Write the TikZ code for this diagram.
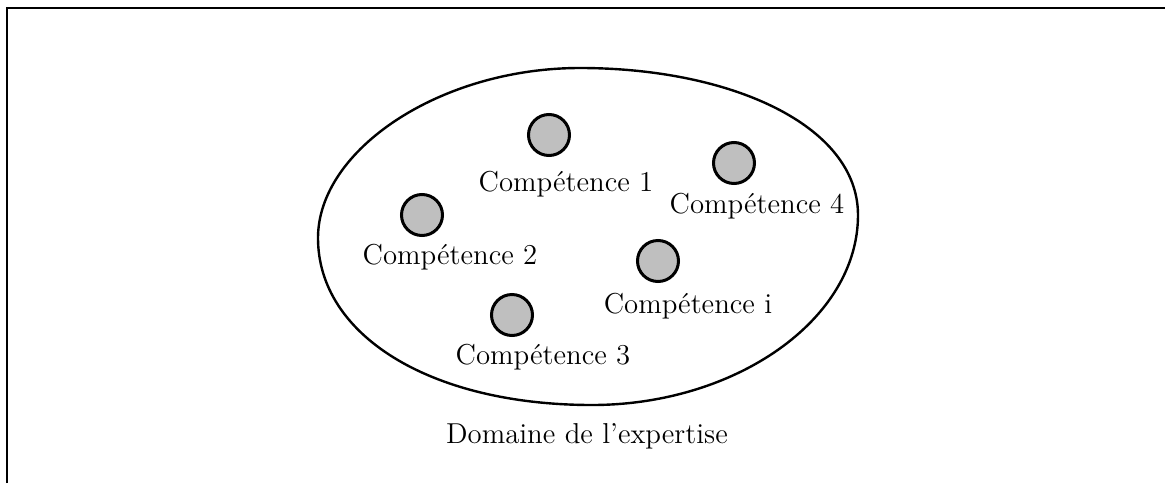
\documentclass[tikz,border=0pt]{standalone}
\begin{document}
\begin{tikzpicture}[x=0.5pt,y=-0.5pt,
  comp/.style={circle,draw=black,line width=1.5pt,fill=black!25,minimum size=20.5pt,inner sep=0pt},
  lbl/.style={font=\fontsize{14.4}{17}\selectfont,inner sep=0pt,anchor=center},
  frameline/.style={line width=1pt},
  blob/.style={line width=1.2pt}]
\useasboundingbox (0,0) rectangle (1169,483);
\draw[frameline] (7,483) -- (7,8) -- (1165,8);
\coordinate (bl) at (318,238);
\coordinate (bt) at (580,68);
\coordinate (br) at (858,215);
\coordinate (bb) at (592,405);
\draw[blob] (bl) .. controls (318,150) and (440,68) .. (bt)
  .. controls (730,68) and (858,125) .. (br)
  .. controls (858,320) and (735,405) .. (bb)
  .. controls (430,405) and (318,335) .. (bl) -- cycle;
\node[comp] (c1) at (549,135) {};
\node[lbl] (t1) at (566,184) {Compétence 1};
\node[comp] (c4) at (734,163) {};
\node[lbl] (t4) at (757,206) {Compétence 4};
\node[comp] (c2) at (422,215) {};
\node[lbl] (t2) at (450,257) {Compétence 2};
\node[comp] (ci) at (658,261) {};
\node[lbl] (ti) at (688,306) {Compétence i};
\node[comp] (c3) at (512,315) {};
\node[lbl] (t3) at (543,357) {Compétence 3};
\node[lbl] (dom) at (587,436) {Domaine de l'expertise};
\end{tikzpicture}
\end{document}
